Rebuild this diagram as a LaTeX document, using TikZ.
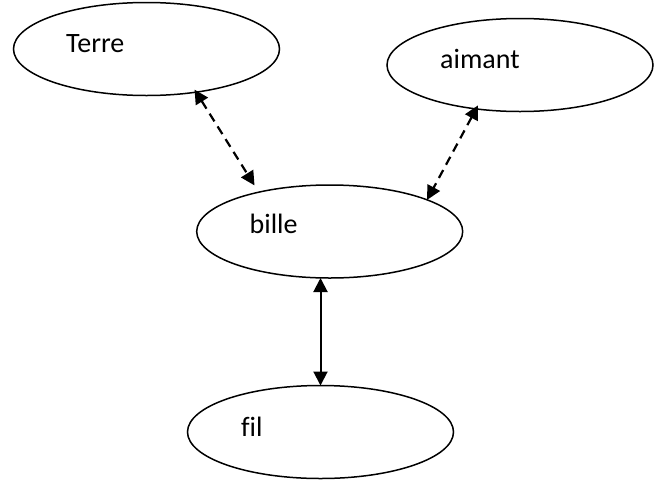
\documentclass[tikz,border=0pt]{standalone}
\usepackage{fontspec}
\setmainfont{Carlito}[Ligatures=NoCommon]
\usetikzlibrary{arrows.meta,shapes.geometric}
\begin{document}
\begin{tikzpicture}[x=1pt,y=-1pt,
  ell/.style={draw, line width=1.5pt, ellipse, minimum width=266pt, minimum height=93pt, inner sep=0pt, outer sep=0pt},
  lbl/.style={anchor=base west, inner sep=0pt, font=\fontsize{28}{34}\selectfont},
  link/.style={line width=2pt, {Triangle[length=14pt,width=14pt]}-{Triangle[length=14pt,width=14pt]}},
  dashlink/.style={link, line width=2.2pt, dash pattern=on 9pt off 6pt}]
\useasboundingbox (0,0) rectangle (664,480);
\node[ell] (terre) at (146.5,49) {};
\node[ell] (aimant) at (520,65) {};
\node[ell] (bille) at (329.7,231.5) {};
\node[ell] (fil) at (320.5,432) {};
\node[lbl] (tTerre) at (66,52) {Terre};
\node[lbl] (tAimant) at (440,68) {aimant};
\node[lbl] (tBille) at (249.5,233) {bille};
\node[lbl] (tFil) at (241,436) {fil};
\draw[dashlink, shorten <=-3pt, shorten >=8pt] (terre.-41) -- (bille.151);
\draw[dashlink, shorten <=-4pt] (aimant.-135) -- (bille.18);
\draw[link] (bille.south -| fil.north) -- (fil.north);
\end{tikzpicture}
\end{document}
